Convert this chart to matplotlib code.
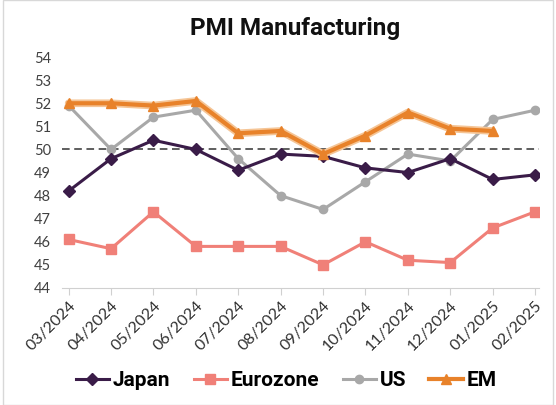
import matplotlib.pyplot as plt

plt.rcParams["font.family"] = ["Lato", "DejaVu Sans"]

months = ["03/2024", "04/2024", "05/2024", "06/2024", "07/2024", "08/2024",
          "09/2024", "10/2024", "11/2024", "12/2024", "01/2025", "02/2025"]
japan = [48.2, 49.6, 50.4, 50.0, 49.1, 49.8, 49.7, 49.2, 49.0, 49.6, 48.7, 48.9]
eurozone = [46.1, 45.7, 47.3, 45.8, 45.8, 45.8, 45.0, 46.0, 45.2, 45.1, 46.6, 47.3]
us = [51.9, 50.0, 51.4, 51.7, 49.6, 48.0, 47.4, 48.6, 49.8, 49.5, 51.3, 51.7]
em = [52.0, 52.0, 51.9, 52.1, 50.7, 50.8, 49.8, 50.6, 51.6, 50.9, 50.8]

fig = plt.figure(figsize=(5.56, 4.05), dpi=100)
ax = fig.add_axes([0.112, 0.289, 0.858, 0.570])

x = range(len(months))
ax.axhline(50, color="#333333", linestyle=(0, (5, 3)), linewidth=1.1, zorder=1)
ax.plot(x, japan, color="#3A1C48", marker="D", markersize=6, linewidth=2.2,
        label="Japan", zorder=3)
ax.plot(x, eurozone, color="#F08078", marker="s", markersize=7, linewidth=2.2,
        label="Eurozone", zorder=3)
ax.plot(x, us, color="#A8A8A8", marker="o", markersize=6, linewidth=2.2,
        label="US", zorder=2)
# soft halo behind the EM line
ax.plot(range(len(em)), em, color="#F5C596", linewidth=5.5, zorder=4,
        solid_capstyle="round")
ax.plot(range(len(em)), em, color="#E8822A", marker="^", markersize=7.5,
        linewidth=3.0, label="EM", zorder=5)

ax.set_ylim(44, 54)
ax.set_yticks(range(44, 55))
ax.set_xlim(-0.15, 11.1)
ax.set_xticks(list(x))
ax.set_xticklabels(months, rotation=45, ha="right", rotation_mode="anchor")
ax.tick_params(axis="y", length=0, labelsize=10.5, colors="#404040", pad=8)
ax.tick_params(axis="x", length=5, color="#D0D0D0", labelsize=11.5,
               labelcolor="#303030", pad=3)
for s in ["top", "right", "left"]:
    ax.spines[s].set_visible(False)
ax.spines["bottom"].set_color("#D0D0D0")

fig.text(0.53, 0.93, "PMI Manufacturing", ha="center", va="center",
         fontsize=17.5, fontweight="bold", color="#111111",
         family=["Roboto", "DejaVu Sans"])

fig.legend(loc="center", bbox_to_anchor=(0.515, 0.06), ncol=4, frameon=False,
           prop={"weight": "bold", "size": 15, "family": ["Roboto", "DejaVu Sans"]},
           handlelength=1.6, handletextpad=0.2, columnspacing=1.1)

fig.patches.append(plt.Rectangle((0.005, 0.0), 0.99, 1.0, transform=fig.transFigure,
                                 fill=False, edgecolor="#D8D8D8", linewidth=1))

fig.savefig("out.png", dpi=100)
